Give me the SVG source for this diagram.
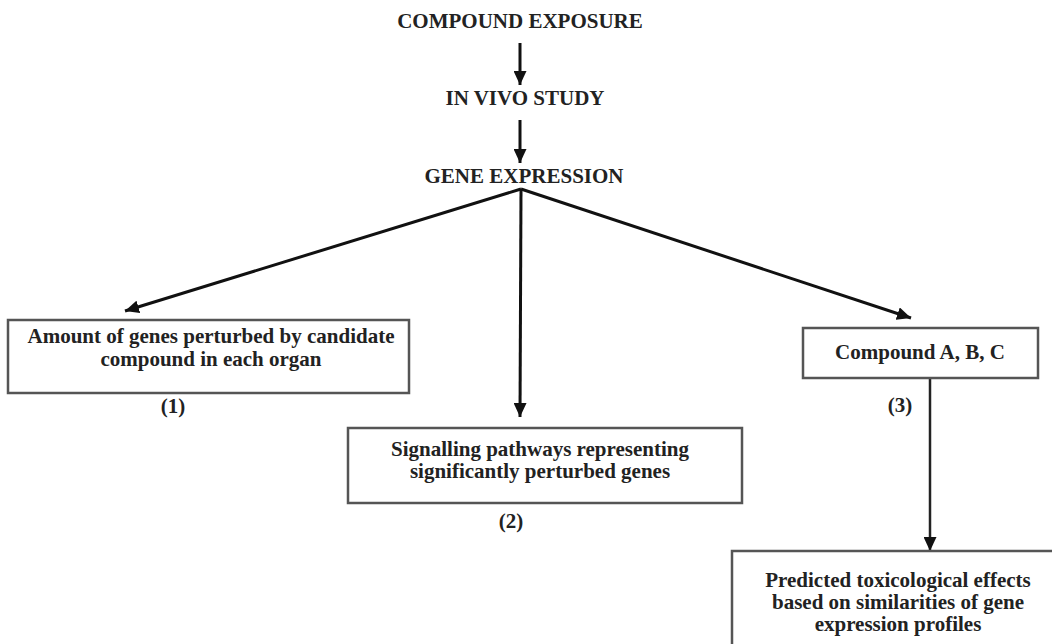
<svg xmlns="http://www.w3.org/2000/svg" width="1052" height="644" viewBox="0 0 1052 644">
<style>
text{font-family:"Liberation Serif","Times New Roman",serif;font-weight:bold;font-size:21px;fill:#222;text-anchor:middle}
.box{fill:#fff;stroke:#555;stroke-width:2.5}
.ln{stroke:#111;stroke-width:3;fill:none}
.thin{stroke:#222;stroke-width:2.5;fill:none}
</style>
<defs>
<marker id="ah" viewBox="0 0 14 13" refX="14" refY="6.5" markerWidth="14" markerHeight="13" markerUnits="userSpaceOnUse" orient="auto">
<path d="M0,0 L14,6.5 L0,13 Z" fill="#111"/>
</marker>
</defs>
<rect width="1052" height="644" fill="#fff"/>
<g id="connectors">
<line class="ln" x1="520" y1="43" x2="520" y2="85" marker-end="url(#ah)"/>
<line class="ln" x1="520" y1="120" x2="520" y2="163" marker-end="url(#ah)"/>
<line class="ln" x1="521" y1="189" x2="125" y2="311" marker-end="url(#ah)"/>
<line class="ln" x1="521" y1="189" x2="520" y2="417" marker-end="url(#ah)"/>
<line class="ln" x1="521" y1="189" x2="911" y2="318" marker-end="url(#ah)"/>
<line class="thin" x1="930" y1="378" x2="930" y2="551" marker-end="url(#ah)"/>
</g>
<g id="n-exposure"><text x="520" y="28">COMPOUND EXPOSURE</text></g>
<g id="n-invivo"><text x="525" y="105">IN VIVO STUDY</text></g>
<g id="n-gene"><text x="524" y="183">GENE EXPRESSION</text></g>
<g id="n-amount">
<rect class="box" x="8" y="320" width="401" height="73"/>
<text x="211" y="343">Amount of genes perturbed by candidate</text>
<text x="211" y="366">compound in each organ</text>
</g>
<g id="l1"><text x="173" y="413">(1)</text></g>
<g id="n-signal">
<rect class="box" x="348" y="428" width="394" height="75"/>
<text x="540" y="456">Signalling pathways representing</text>
<text x="540" y="478">significantly perturbed genes</text>
</g>
<g id="l2"><text x="511" y="528">(2)</text></g>
<g id="n-compound">
<rect class="box" x="803" y="328" width="235" height="50"/>
<text x="920" y="359">Compound A, B, C</text>
</g>
<g id="l3"><text x="900" y="412">(3)</text></g>
<g id="n-predicted">
<rect class="box" x="732" y="551" width="330" height="110"/>
<text x="898" y="587">Predicted toxicological effects</text>
<text x="898" y="609">based on similarities of gene</text>
<text x="898" y="631">expression profiles</text>
</g>
</svg>
